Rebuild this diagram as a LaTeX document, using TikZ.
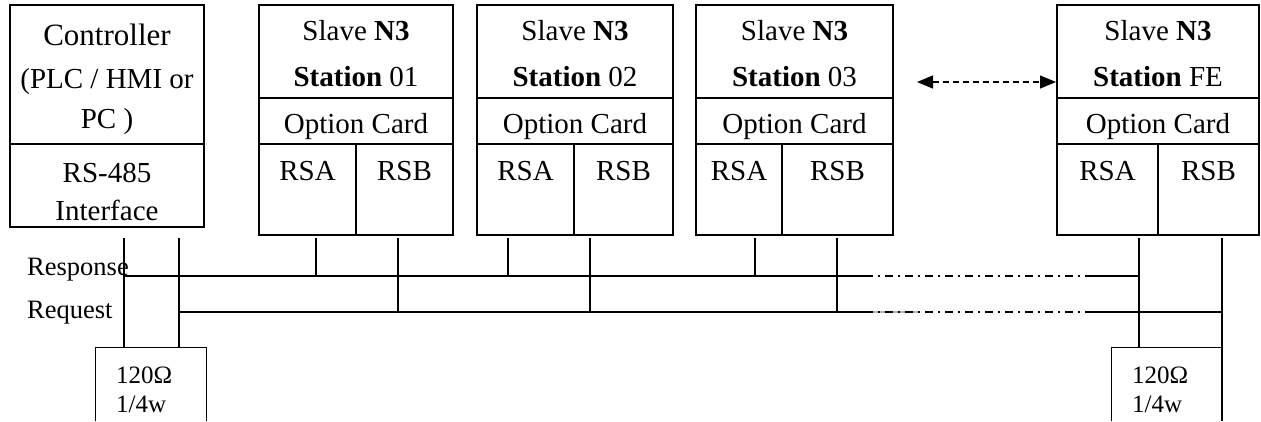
\documentclass[tikz,border=0pt]{standalone}
\usepackage{fontspec}
\setmainfont{Liberation Serif}
\usetikzlibrary{arrows.meta}
\begin{document}
\begin{tikzpicture}[x=1pt,y=-1pt,
  frame/.style={draw, line width=1.8pt, rectangle, inner sep=0pt},
  sep/.style={line width=1.3pt},
  wire/.style={line width=1.2pt},
  dashdot/.style={line width=1.2pt, dash pattern=on 8pt off 5pt on 2pt off 5pt},
  lbl/.style={anchor=base, inner sep=0pt, font=\fontsize{29}{31}\selectfont},
  small/.style={anchor=base west, inner sep=0pt, font=\fontsize{25}{27}\selectfont},
  side/.style={anchor=base west, inner sep=0pt, font=\fontsize{26.5}{28}\selectfont},
]
\useasboundingbox (0,0) rectangle (1261,421);

% Controller
\node[frame, minimum width=194pt, minimum height=222pt] (ctrl) at (107,116) {};
\draw[sep] (10,144) -- (204,144);
\node[lbl, font=\fontsize{31}{33}\selectfont] (c1) at (107,45) {Controller};
\node[lbl] (c2) at (107,88) {(PLC / HMI or};
\node[lbl] (c3) at (107,128) {PC )};
\node[lbl] (c4) at (107,182) {RS-485};
\node[lbl] (c5) at (107,220) {Interface};

% Slaves
\foreach \n/\l/\r/\d/\s/\xa/\xb in {s1/259/453/356/01/316/398, s2/477/673/574/02/508/590, s3/696/893/782/03/755/837, s4/1057/1259/1158/FE/1139/1222} {
  \pgfmathsetmacro\cx{(\l+\r)/2}
  \pgfmathsetmacro\w{\r-\l}
  \pgfmathsetmacro\ca{(\l+\d)/2}
  \pgfmathsetmacro\cb{(\d+\r)/2}
  \node[frame, minimum width=\w pt, minimum height=230pt] (\n) at (\cx,120) {};
  \draw[sep] (\l,98) -- (\r,98);
  \draw[sep] (\l,144) -- (\r,144);
  \draw[sep] (\d,144) -- (\d,235);
  \node[lbl] (\n-t1) at (\cx,40) {Slave \textbf{N3}};
  \node[lbl] (\n-t2) at (\cx,86) {\textbf{Station} \s};
  \node[lbl] (\n-t3) at (\cx,133) {Option Card};
  \node[lbl] (\n-ra) at (\ca,180) {RSA};
  \node[lbl] (\n-rb) at (\cb,180) {RSB};
  \coordinate (\n-pa) at (\xa,238);
  \coordinate (\n-pb) at (\xb,238);
  \coordinate (\n-qa) at (\xa,276);
  \coordinate (\n-qb) at (\xb,312);
}

% bus coordinates
\coordinate (cA) at (124,238);
\coordinate (cB) at (179,238);
\coordinate (cAresp) at (124,276);
\coordinate (cBreq) at (179,312);
\coordinate (cAres) at (124,348);
\coordinate (cBres) at (179,348);
\coordinate (resp1) at (865,276);
\coordinate (resp2) at (1085,276);
\coordinate (req1) at (865,312);
\coordinate (req1b) at (920,312);
\coordinate (req2) at (1085,312);
\coordinate (feAres) at (1139,348);
\coordinate (feBbot) at (1222,421);

% stubs
\draw[wire] (cA) -- (cAres);
\draw[wire] (cB) -- (cBres);
\foreach \n in {s1,s2,s3} {
  \draw[wire] (\n-pa) -- (\n-qa);
  \draw[wire] (\n-pb) -- (\n-qb);
}
\draw[wire] (s4-pa) -- (feAres);
\draw[wire] (s4-pb) -- (feBbot);

% response line
\draw[wire] (cAresp) -- (resp1);
\draw[dashdot] (resp1) -- (resp2);
\draw[wire] (resp2) -- (s4-qa);
% request line
\draw[wire] (cBreq) -- (req1);
\draw[wire, gray!60] (req1) -- (req1b);
\draw[dashdot] (req1) -- (req2);
\draw[wire] (req2) -- (s4-qb);

% labels
\node[side] (resp) at (27,275) {Response};
\node[side] (req) at (27,318) {Request};

% resistors
\node[minimum width=110pt, minimum height=73pt, inner sep=0pt] (r1) at (151,384.5) {};
\draw[sep] (r1.south west) -- (r1.north west) -- (r1.north east) -- (r1.south east);
\node[small] (r1a) at (116,383) {120Ω};
\node[small] (r1b) at (116,412) {1/4w};
\node[minimum width=109pt, minimum height=73pt, inner sep=0pt] (r2) at (1166.5,384.5) {};
\draw[sep] (r2.south west) -- (r2.north west) -- (r2.north east);
\node[small] (r2a) at (1132,383) {120Ω};
\node[small] (r2b) at (1132,412) {1/4w};

% arrow
\coordinate (arrL) at (917,82);
\coordinate (arrR) at (1056,82);
\draw[wire, dash pattern=on 6pt off 4pt, {Triangle[length=16pt,width=13pt]}-{Triangle[length=16pt,width=13pt]}] (arrL) -- (arrR);
\end{tikzpicture}
\end{document}
